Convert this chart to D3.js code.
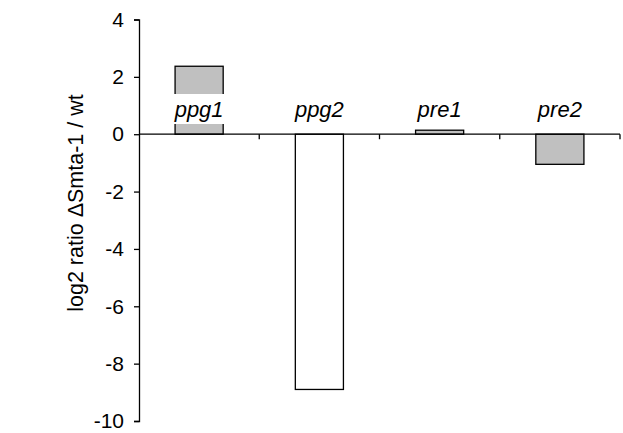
<!DOCTYPE html>
<html>
<head>
<meta charset="utf-8">
<script src="https://cdn.jsdelivr.net/npm/d3@7"></script>
<style>
    body { margin: 0; background: #fff; }
    svg { font-family: "Liberation Sans", Arial, sans-serif; }
</style>
</head>
<body>
<svg id="chart" width="623" height="433"></svg>
<script>
var genes = ["ppg1", "ppg2", "pre1", "pre2"];
var ratios = [2.37, -8.9, 0.14, -1.05];
var fills = ["#c0c0c0", "#ffffff", "#c0c0c0", "#c0c0c0"];
var yTicks = [-10, -8, -6, -4, -2, 0, 2, 4];

var svg = d3.select("#chart");

var x = d3.scaleBand()
    .domain(genes)
    .range([139, 620])
    .paddingInner(0.6)
    .paddingOuter(0.3);

var y = d3.scaleLinear()
    .domain([-10, 4])
    .range([421, 19.5]);

// y axis, plain hyphen for negatives like the original
var yAxis = svg.append("g")
    .attr("transform", "translate(139,0)")
    .call(d3.axisLeft(y).tickValues(yTicks).tickFormat(function (d) { return String(d); })
        .tickSize(5).tickSizeOuter(5).tickPadding(10));
yAxis.selectAll("path, line").attr("stroke", "#000").attr("stroke-width", 1.3);
yAxis.selectAll("text").attr("font-size", 21).attr("fill", "#000")
    .attr("font-family", "'Liberation Sans', Arial, sans-serif");

// bars
svg.selectAll("rect.bar")
    .data(genes)
    .enter().append("rect")
    .attr("class", "bar")
    .attr("x", function (d) { return x(d); })
    .attr("width", x.bandwidth())
    .attr("y", function (d, i) { return y(Math.max(0, ratios[i])); })
    .attr("height", function (d, i) { return Math.abs(y(ratios[i]) - y(0)); })
    .attr("fill", function (d, i) { return fills[i]; })
    .attr("stroke", "#000")
    .attr("stroke-width", 1.3);

// zero line with category ticks
var step = x.step();
var edges = genes.map(function (d) { return x(d) - step * 0.3; });
edges.push(x(genes[genes.length - 1]) + x.bandwidth() + step * 0.3);

svg.append("line")
    .attr("x1", 139).attr("x2", edges[edges.length - 1])
    .attr("y1", y(0)).attr("y2", y(0))
    .attr("stroke", "#000").attr("stroke-width", 1.3);

svg.selectAll("line.ctick")
    .data(edges.slice(1))
    .enter().append("line")
    .attr("class", "ctick")
    .attr("x1", function (d) { return d; }).attr("x2", function (d) { return d; })
    .attr("y1", y(0)).attr("y2", y(0) + 5)
    .attr("stroke", "#000").attr("stroke-width", 1.3);

// category labels with white backing
var labels = svg.selectAll("g.lab")
    .data(genes)
    .enter().append("g")
    .attr("class", "lab");

labels.append("rect")
    .attr("x", function (d) { return x(d) - 2; })
    .attr("width", x.bandwidth() + 4)
    .attr("y", 94)
    .attr("height", 30)
    .attr("fill", "#fff");

labels.append("text")
    .attr("x", function (d) { return x(d) + x.bandwidth() / 2; })
    .attr("y", 117)
    .attr("text-anchor", "middle")
    .attr("font-size", 22)
    .attr("font-style", "italic")
    .text(function (d) { return d; });

// y title
svg.append("text")
    .attr("transform", "translate(83,203) rotate(-90)")
    .attr("text-anchor", "middle")
    .attr("font-size", 21.5)
    .text("log2 ratio \u0394Smta-1 / wt");
</script>
</body>
</html>
